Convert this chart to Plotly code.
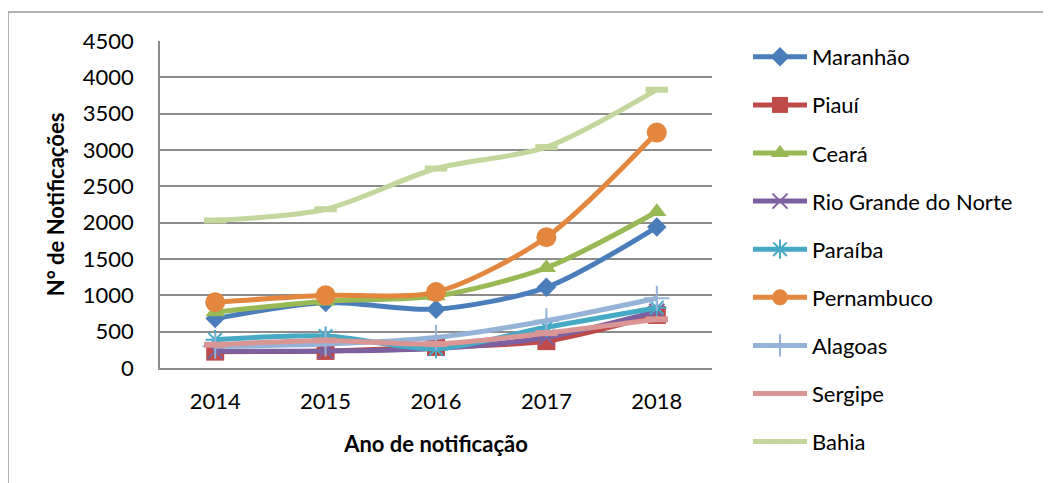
import plotly.graph_objects as go

years = ["2014", "2015", "2016", "2017", "2018"]
maranhao = [680, 900, 810, 1110, 1940]
piaui = [225, 235, 290, 370, 730]
ceara = [770, 920, 990, 1380, 2150]
rio_grande_do_norte = [230, 235, 270, 420, 780]
paraiba = [390, 440, 265, 560, 830]
pernambuco = [905, 1000, 1045, 1800, 3240]
alagoas = [300, 330, 420, 650, 960]
sergipe = [320, 380, 330, 480, 670]
bahia = [2030, 2185, 2745, 3040, 3830]

series = [
    ("Maranhão", maranhao, "#4A7EBB", "diamond", 15, 0),
    ("Piauí", piaui, "#BE4B48", "square", 18, 0),
    ("Ceará", ceara, "#98B954", "triangle-up", 17, 0),
    ("Rio Grande do Norte", rio_grande_do_norte, "#7D60A0", "x-thin", 15, 2),
    ("Paraíba", paraiba, "#46AAC5", "asterisk", 16, 2),
    ("Pernambuco", pernambuco, "#E3873F", "circle", 20, 0),
    ("Alagoas", alagoas, "#95B3D7", "cross-thin", 18, 2),
    ("Sergipe", sergipe, "#D99694", "line-ew", 16, 6),
    ("Bahia", bahia, "#C3D69B", "line-ew", 16, 6),
]

FONT = "Lato"
W, H = 1043, 475  # page body adds an 8px margin
L, R, T, B = 152, W - 704, 33, H - 360
PW, PH = 704 - 152, 360 - 33

fig = go.Figure()
for name, vals, color, sym, size, lw in series:
    marker = dict(symbol=sym, size=size, color=color)
    marker["line"] = dict(color=color, width=lw) if lw else dict(width=0)
    fig.add_trace(go.Scatter(
        x=years, y=vals, name=name, mode="lines+markers",
        line=dict(color=color, width=5, shape="spline", smoothing=0.8),
        marker=marker, legendgroup=name,
    ))

grid = "#8C8C8C"
fig.update_layout(
    width=W, height=H,
    margin=dict(l=L, r=R, t=T, b=B),
    paper_bgcolor="white", plot_bgcolor="white",
    font=dict(family=FONT, size=22, color="black"),
    showlegend=True,
    legend=dict(
        xref="container", yref="container", x=740 / W, y=1 - 28 / H,
        xanchor="left", yanchor="top", tracegroupgap=16.5, maxheight=H,
        font=dict(family=FONT, size=22, color="black"),
        itemwidth=54, bgcolor="rgba(0,0,0,0)",
    ),
    xaxis=dict(
        type="category", showgrid=False, showline=True, linecolor=grid, linewidth=1.5,
        ticks="", ticklabelstandoff=13,
        title=dict(text="<b>Ano de notificação</b>", font=dict(family=FONT, size=22), standoff=23),
        range=[-0.5, 4.5],
    ),
    yaxis=dict(
        range=[0, 4500], dtick=500, showgrid=True, gridcolor=grid, gridwidth=1.5,
        showline=True, linecolor=grid, linewidth=1.5, ticks="", ticklabelstandoff=20,
        zeroline=False,
        title=dict(text="<b>N° de Notificações</b>", font=dict(family=FONT, size=22), standoff=12),
    ),
    shapes=[dict(type="rect", xref="paper", yref="paper",
                 x0=(0 - L) / PW, x1=(1100 - L) / PW,
                 y0=(360 - 520) / PH, y1=(360 - 4) / PH,
                 line=dict(color="#9A9A9A", width=1.5), fillcolor="rgba(0,0,0,0)", layer="below")],
)

fig.write_html("out.html")
